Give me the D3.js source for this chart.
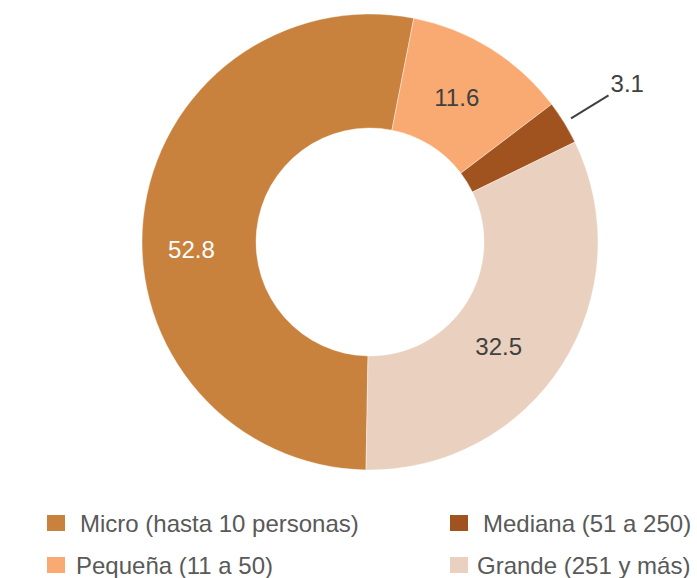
<!DOCTYPE html>
<html>
<head>
<meta charset="utf-8">
<script src="https://cdn.jsdelivr.net/npm/d3@7"></script>
<style>
	body { margin: 0; background: #fff; }
	svg { display: block; font-family: "Liberation Sans", Arial, sans-serif; }
</style>
</head>
<body>
<script>
const categories = ["Micro (hasta 10 personas)", "Pequeña (11 a 50)", "Mediana (51 a 250)", "Grande (251 y más)"];
const values = [52.8, 11.6, 3.1, 32.5];
const valueLabels = ["52.8", "11.6", "3.1", "32.5"];

const colors = ["#C9823E", "#F8AA72", "#A0521F", "#E9D0BF"];
const labelColors = ["#ffffff", "#404040", "#404040", "#404040"];

const w = 697;
const h = 578;
const cx = 370;
const cy = 242;
const rOuter = 228;
const rInner = 114;

const svg = d3.select("body")
	.append("svg")
	.attr("width", w)
	.attr("height", h);

const data = categories.map((c, i) => ({ name: c, value: values[i], label: valueLabels[i], i: i }));

const startA = 181 * Math.PI / 180;
const pie = d3.pie()
	.value(d => d.value)
	.sort(null)
	.startAngle(startA)
	.endAngle(startA + 2 * Math.PI);

const arc = d3.arc().innerRadius(rInner).outerRadius(rOuter);
const labelArc = d3.arc().innerRadius(rInner).outerRadius(rOuter + 1);

const arcs = pie(data);

const g = svg.append("g").attr("transform", `translate(${cx},${cy})`);

g.selectAll("path")
	.data(arcs)
	.enter()
	.append("path")
	.attr("d", arc)
	.attr("fill", d => colors[d.data.i])
	.attr("stroke", "#fff")
	.attr("stroke-width", 0.4);

// small nudges so labels sit like in the original (best fit placement)
const nudge = [[-8, 26], [-4, 1], [0, 0], [-16, 12]];

const inside = arcs.filter(d => d.data.value > 5);
g.selectAll("text.val")
	.data(inside)
	.enter()
	.append("text")
	.attr("class", "val")
	.attr("x", d => labelArc.centroid(d)[0] + nudge[d.data.i][0])
	.attr("y", d => labelArc.centroid(d)[1] + nudge[d.data.i][1])
	.attr("text-anchor", "middle")
	.attr("dominant-baseline", "central")
	.attr("font-size", 24)
	.attr("fill", d => labelColors[d.data.i])
	.text(d => d.data.label);

// small slice: label outside with leader line
const outside = arcs.filter(d => d.data.value <= 5);
outside.forEach(d => {
	const mid = (d.startAngle + d.endAngle) / 2;
	const p1 = [236 * Math.sin(mid), -236 * Math.cos(mid)];
	const p2 = [280 * Math.sin(mid), -280 * Math.cos(mid)];
	g.append("line")
		.attr("x1", p1[0]).attr("y1", p1[1])
		.attr("x2", p2[0]).attr("y2", p2[1])
		.attr("stroke", "#404040")
		.attr("stroke-width", 2);
	g.append("text")
		.attr("x", p2[0] + 2)
		.attr("y", p2[1] - 12)
		.attr("dominant-baseline", "central")
		.attr("font-size", 24)
		.attr("fill", "#404040")
		.text(d.data.label);
});

// legend
const legendPos = [[47, 515, 33], [47, 557, 29], [450, 515, 33], [450, 557, 27]];

const legend = svg.append("g").attr("id", "legend");
data.forEach((d, i) => {
	const p = legendPos[i];
	legend.append("rect")
		.attr("x", p[0])
		.attr("y", p[1])
		.attr("width", 18)
		.attr("height", 16)
		.attr("fill", colors[i]);
	legend.append("text")
		.attr("x", p[0] + p[2])
		.attr("y", p[1] + 17)
		.attr("font-size", 24)
		.attr("fill", "#595959")
		.text(d.name);
});
</script>
</body>
</html>
